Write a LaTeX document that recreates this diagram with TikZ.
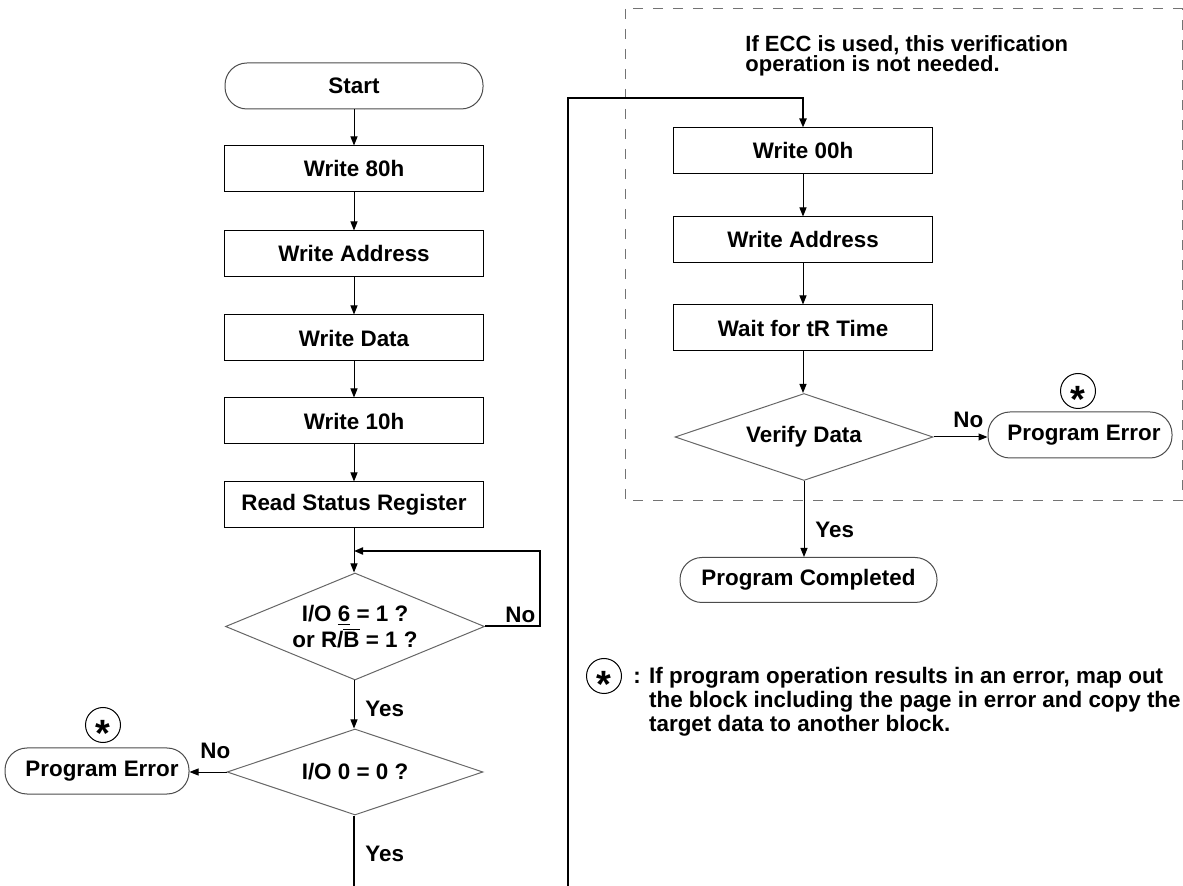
\documentclass[tikz,border=0pt]{standalone}
\usepackage{fontspec}
\setmainfont{Liberation Sans}
\usetikzlibrary{shapes.geometric,arrows.meta}
\begin{document}
\begin{tikzpicture}[x=0.5pt,y=-0.5pt,
  font=\bfseries\fontsize{11.2}{11.5}\selectfont,
  box/.style={draw=black,line width=0.5pt,minimum width=129.5pt,minimum height=23pt,inner sep=0pt},
  term/.style={draw=black!70,line width=0.5pt,rounded corners=11pt,minimum height=23pt,inner sep=0pt},
  dec/.style={diamond,draw=black!60,line width=0.5pt,inner sep=0pt,aspect=2.5,align=center},
  star/.style={circle,draw=black,line width=0.5pt,minimum size=17.5pt,inner sep=0pt},
  starsym/.style={inner sep=0pt,font=\bfseries\fontsize{19}{19}\selectfont},
  conn/.style={draw=black,line width=0.5pt},
  thickconn/.style={draw=black,line width=1pt},
  arr/.style={-{Triangle[length=4.5pt,width=3.5pt]}},
  lbl/.style={inner sep=0pt,anchor=west},
]
\useasboundingbox (0,0) rectangle (1183,886);

% dashed region
\draw[black!55,line width=0.5pt,dash pattern=on 5pt off 5pt] (625,9) rectangle (1182,501);
\node[inner sep=0pt,anchor=north west,align=left,font=\bfseries\fontsize{11}{10}\selectfont] (ecc) at (745,35)
  {If ECC is used, this verification\\operation is not needed.};

% left column
\node[term,minimum width=129pt] (start) at (354,86) {Start};
\node[box] (w80) at (354,169) {Write 80h};
\node[box] (wa1) at (354,254) {Write Address};
\node[box] (wd) at (354,338) {Write Data};
\node[box] (w10) at (354,421) {Write 10h};
\node[box] (rsr) at (354,505) {Read Status Register};
\node[dec,minimum width=129.5pt,minimum height=53.5pt] (d1) at (355,626.5)
  {I/O \underline{6} = 1 ?\\or R/$\overline{\mbox{B}}$ = 1 ?};
\node[dec,minimum width=128pt,minimum height=43pt] (d2) at (355,772) {I/O 0 = 0 ?};
\node[term,minimum width=92pt] (pe1) at (97,771) {\hspace*{5pt}Program Error};
\node[star] (s1) at (103,725) {};
\node[starsym] (s1t) at ([yshift=-4.2pt]s1.center) {*};

\draw[conn,arr] (start) -- (w80);
\draw[conn,arr] (w80) -- (wa1);
\draw[conn,arr] (wa1) -- (wd);
\draw[conn,arr] (wd) -- (w10);
\draw[conn,arr] (w10) -- (rsr);
\draw[conn,arr] (rsr.south) -- (rsr.south |- d1.north);
\coordinate (lp) at (540,551);
\draw[thickconn,arr] (d1.east) -| (lp) -- (lp -| rsr.south);
\node[lbl] (no1) at (505,615) {No};
\draw[conn,arr] (d1.south -| rsr.south) -- (rsr.south |- d2.north);
\node[lbl] (yes1) at (365,709) {Yes};
\draw[conn,arr] (d2.west) -- (d2.west -| pe1.east);
\node[lbl] (no2) at (200,751) {No};
\coordinate (bot1) at (354,886);
\draw[thickconn] (d2.south -| bot1) -- (bot1);
\node[lbl] (yes2) at (365,854) {Yes};

% right column
\node[box] (w00) at (803,151) {Write 00h};
\node[box] (wa2) at (803,240) {Write Address};
\node[box] (wt) at (803,328) {Wait for tR Time};
\node[dec,minimum width=129pt,minimum height=43.5pt] (d3) at (804,437) {Verify Data};
\node[term,minimum width=92pt] (pe2) at (1080,435) {\hspace*{4pt}Program Error};
\node[star] (s2) at (1078,391) {};
\node[starsym] (s2t) at ([yshift=-4.2pt]s2.center) {*};
\node[term,minimum width=128.5pt,minimum height=22.5pt] (pc) at (808.5,580) {Program Completed};

\coordinate (bot2) at (568,886);
\coordinate (tp) at (568,98);
\draw[thickconn,arr] (bot2) -- (tp) -- (tp -| w00.north) -- (w00.north);
\draw[conn,arr] (w00) -- (wa2);
\draw[conn,arr] (wa2) -- (wt);
\draw[conn,arr] (wt.south) -- (wt.south |- d3.north);
\draw[conn,arr] (d3.east) -- (d3.east -| pe2.west);
\node[lbl] (no3) at (953,420) {No};
\draw[conn,arr] (d3.south) -- (d3.south |- pc.north);
\node[lbl] (yes3) at (815,530) {Yes};

% footnote
\node[star] (s3) at (604,676) {};
\node[starsym] (s3t) at ([yshift=-4.2pt]s3.center) {*};
\node[inner sep=0pt,anchor=north west,align=left,font=\bfseries\fontsize{11.2}{12}\selectfont] (note) at (633,667)
  {: If program operation results in an error, map out\\
   \phantom{: }the block including the page in error and copy the\\
   \phantom{: }target data to another block.};
\end{tikzpicture}
\end{document}
